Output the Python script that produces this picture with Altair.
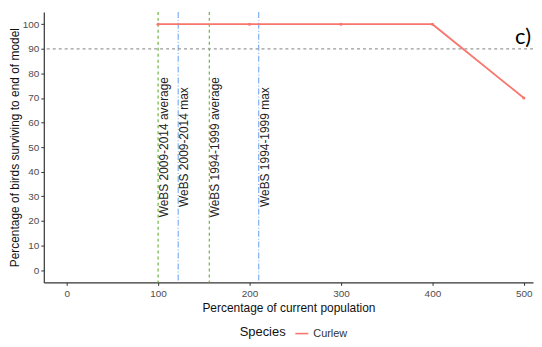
import altair as alt
import pandas as pd

# Data
pop_pct = [100, 200, 300, 400, 500]
survival = [100, 100, 100, 100, 70]
species = ["Curlew"] * 5

ref_values = [100, 122, 156, 210]
ref_labels = ["WeBS 2009-2014 average", "WeBS 2009-2014 max",
              "WeBS 1994-1999 average", "WeBS 1994-1999 max"]
ref_types = ["average", "max", "average", "max"]
label_y = [50, 50, 50, 50]

threshold = [90]

x_ticks = [0, 100, 200, 300, 400, 500]
y_ticks = [0, 10, 20, 30, 40, 50, 60, 70, 80, 90, 100]

line_df = pd.DataFrame({"x": pop_pct, "y": survival, "Species": species})
ref_df = pd.DataFrame({"x": ref_values, "label": ref_labels, "type": ref_types, "ly": label_y})
thr_df = pd.DataFrame({"y": threshold})

xscale = alt.Scale(domain=[-25, 510], nice=False, zero=False)
yscale = alt.Scale(domain=[-5, 105], nice=False, zero=False)

xaxis = alt.Axis(values=x_ticks, title="Percentage of current population", grid=False)
yaxis = alt.Axis(values=y_ticks, title="Percentage of birds surviving to end of model", grid=False)

avg_rules = alt.Chart(ref_df).transform_filter(alt.datum.type == "average").mark_rule(
    color="#6DB33F", strokeDash=[3, 3], strokeWidth=1.2
).encode(x=alt.X("x:Q", scale=xscale, axis=xaxis))

max_rules = alt.Chart(ref_df).transform_filter(alt.datum.type == "max").mark_rule(
    color="#7FB0F5", strokeDash=[6, 2, 1, 2], strokeWidth=1.2
).encode(x=alt.X("x:Q", scale=xscale, axis=xaxis))

thr_rule = alt.Chart(thr_df).mark_rule(
    color="#9A9A9A", strokeDash=[3, 3], strokeWidth=1.3
).encode(y=alt.Y("y:Q", scale=yscale, axis=yaxis))

labels = alt.Chart(ref_df).mark_text(
    angle=270, xOffset=6, align="center", baseline="middle",
    fontSize=12, font="Liberation Sans", color="#222222"
).encode(
    x=alt.X("x:Q", scale=xscale, axis=xaxis),
    y=alt.Y("ly:Q", scale=yscale, axis=yaxis),
    text="label:N",
)

color_scale = alt.Scale(domain=["Curlew"], range=["#F8766D"])
legend = alt.Legend(
    orient="none", legendX=197, legendY=316, direction="horizontal",
    titleOrient="left", title="Species", symbolType="stroke",
    symbolSize=170, symbolStrokeWidth=1.6, labelFontSize=11,
    titleFontSize=13, titleFontWeight="normal", titleColor="#111",
    labelColor="#333", titlePadding=8, labelFont="Liberation Sans",
    titleFont="Liberation Sans",
)

line = alt.Chart(line_df).mark_line(strokeWidth=1.8).encode(
    x=alt.X("x:Q", scale=xscale, axis=xaxis),
    y=alt.Y("y:Q", scale=yscale, axis=yaxis),
    color=alt.Color("Species:N", scale=color_scale, legend=legend),
)
points = alt.Chart(line_df).mark_point(filled=True, size=10, opacity=1).encode(
    x=alt.X("x:Q", scale=xscale, axis=xaxis),
    y=alt.Y("y:Q", scale=yscale, axis=yaxis),
    color=alt.Color("Species:N", scale=color_scale, legend=None),
)

panel_label = alt.Chart(pd.DataFrame({"t": ["c)"]})).mark_text(
    align="left", baseline="middle", fontSize=22, font="Lato", color="#000"
).encode(x=alt.value(474), y=alt.value(25), text="t:N")

chart = alt.layer(
    avg_rules, max_rules, thr_rule, labels, line, points, panel_label
).properties(
    width=492, height=272,
    padding={"left": 0, "top": 2, "right": 0, "bottom": 0},
).configure_view(stroke=None).configure_axis(
    domainColor="#333333", domainWidth=1.2, tickColor="#333333", tickSize=3,
    labelColor="#4D4D4D", labelFontSize=10, labelFont="Liberation Sans",
    titleFont="Liberation Sans", titleFontSize=12, titleFontWeight="normal",
    titleColor="#111111", labelPadding=2,
).configure_axisX(titlePadding=4, labelPadding=3).configure_axisY(titlePadding=1)

chart.save("out.html", embed_options={"renderer": "svg", "actions": False})
